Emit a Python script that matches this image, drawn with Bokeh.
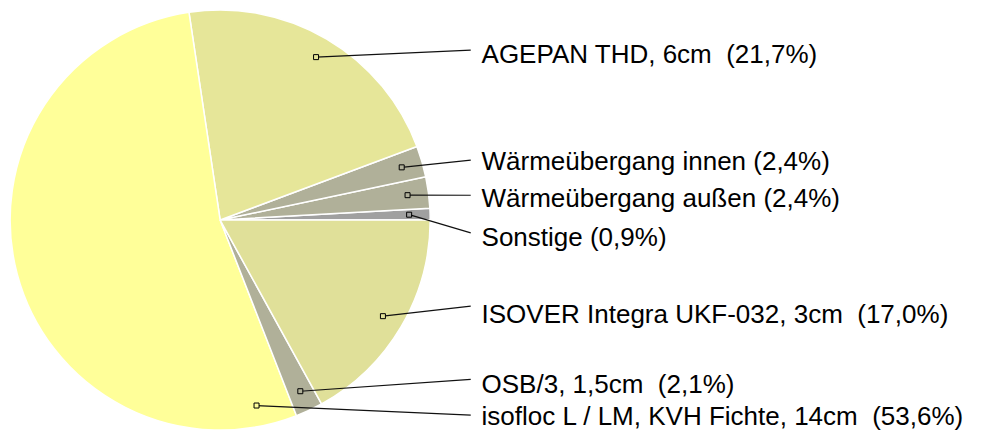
import math
from bokeh.plotting import figure
from bokeh.models import Range1d, ColumnDataSource
from bokeh.core.properties import value
from bokeh.embed import file_html
from bokeh.resources import INLINE

# ---- data (counter-clockwise from 3 o'clock) ----
categories = [
    "Sonstige",
    "Wärmeübergang außen",
    "Wärmeübergang innen",
    "AGEPAN THD, 6cm\u00a0",
    "isofloc L / LM, KVH Fichte, 14cm\u00a0",
    "OSB/3, 1,5cm\u00a0",
    "ISOVER Integra UKF-032, 3cm\u00a0",
]
shares = [0.9, 2.4, 2.4, 21.7, 53.6, 2.1, 17.0]

# ---- style / layout (reference pixel space, 985 x 446) ----
colors = ["#A0A0A0", "#B0B099", "#B0B099", "#E6E699", "#FFFF99", "#B0B099", "#E0E099"]
anchor_frac = [0.5, 0.5, 0.5, 0.5, 0.947, 0.5, 0.5]   # where the label marker sits in the slice
label_mid_y = [245, 205, 166, 55.5, 431, 398, 325]   # y of label centres
leader_end_y = [241, 202, 165.5, 51.5, 430, 393, 317]  # y of leader-line ends

W, H = 969, 430
REF_W, REF_H = 985, 446
cx, cy_ref, R = 223.3, 227.7, 213.5
label_x, leader_x = 489, 478


def sy(y):  # reference y (top-down) -> data y
    return REF_H - y


p = figure(width=W, height=H, output_backend="svg", toolbar_location=None,
           x_range=Range1d(0, REF_W), y_range=Range1d(0, REF_H),
           min_border=0, outline_line_color=None)
p.axis.visible = False
p.grid.visible = False
p.background_fill_color = "white"
p.border_fill_color = "white"

total = sum(shares)
starts, ends = [], []
acc = 0.0
for s in shares:
    a0 = acc / total * 2 * math.pi
    acc += s
    a1 = acc / total * 2 * math.pi
    starts.append(a0)
    ends.append(a1)

cy = sy(cy_ref)
src = ColumnDataSource(dict(start=starts, end=ends, color=colors))
p.wedge(x=cx, y=cy, radius=R, start_angle="start", end_angle="end",
        fill_color="color", line_color="white", line_width=1.5, source=src)

# marker positions computed in screen-proportional space so they stay inside slices
sx_scale = W / REF_W
sy_scale = H / REF_H
mx, my = [], []
for a0, a1, f in zip(starts, ends, anchor_frac):
    a = a0 + f * (a1 - a0)
    r_px = 0.9 * R * sx_scale
    mx.append(cx + r_px * math.cos(a) / sx_scale)
    my.append(cy + r_px * math.sin(a) / sy_scale)

xs = [[x, leader_x] for x in mx]
ys = [[y, sy(e)] for y, e in zip(my, leader_end_y)]
p.multi_line(xs=xs, ys=ys, line_color="#111111", line_width=1.2)
p.scatter(x=mx, y=my, marker="square", size=5, fill_color=colors,
          line_color="black", line_width=1)

labels = [f"{c} ({s:.1f}%)".replace(".", ",") for c, s in zip(categories, shares)]
p.text(x=[label_x] * len(labels), y=[sy(v) for v in label_mid_y], text=labels,
       text_font=value("Liberation Sans"), text_font_size="26px",
       text_baseline="middle", text_align="left", text_color="black")

open("out.html", "w").write(file_html(p, INLINE))
